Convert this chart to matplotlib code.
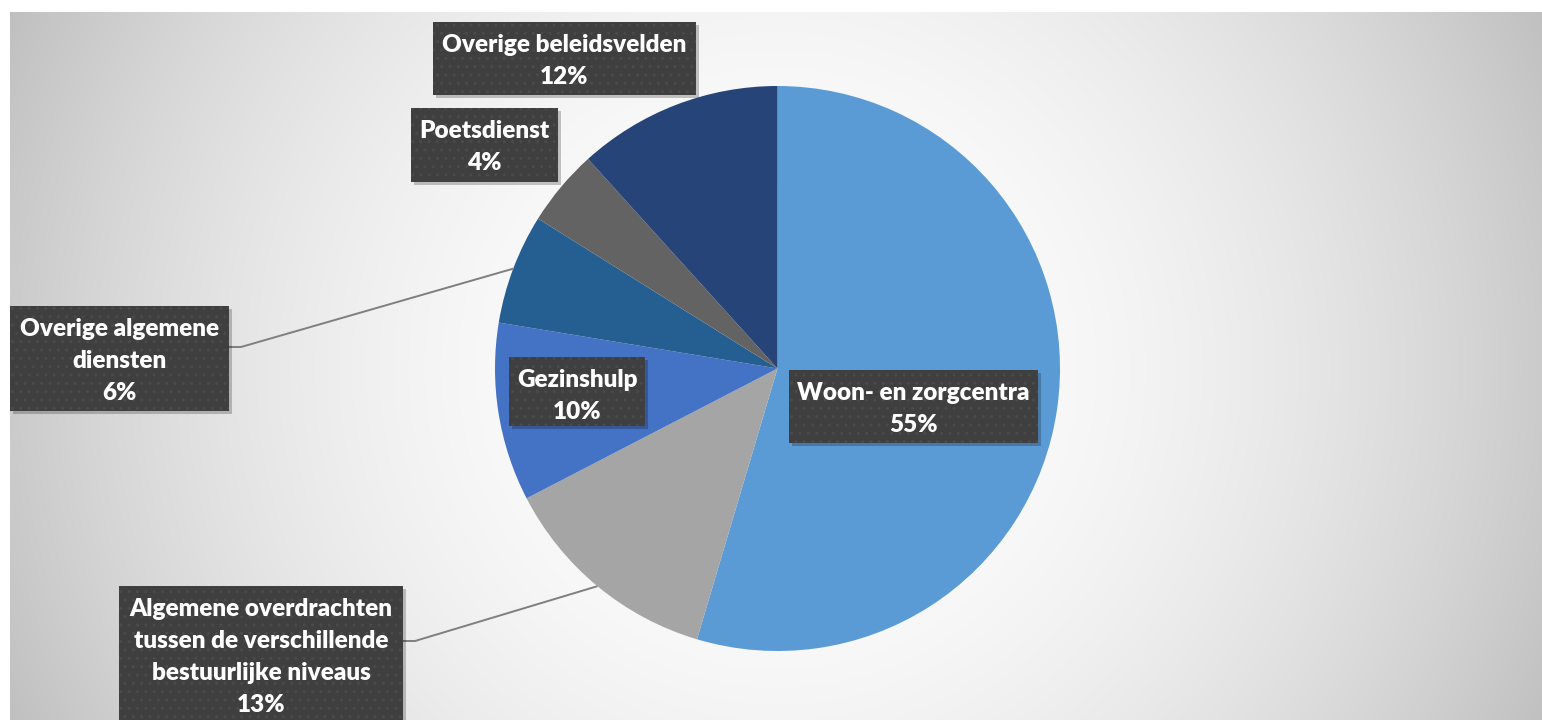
import numpy as np
import matplotlib
matplotlib.use("Agg")
import matplotlib.pyplot as plt
from matplotlib.patches import Rectangle

# ---- data ----
categories = ["Woon- en zorgcentra",
              "Algemene overdrachten\ntussen de verschillende\nbestuurlijke niveaus",
              "Gezinshulp",
              "Overige algemene\ndiensten",
              "Poetsdienst",
              "Overige beleidsvelden"]
values = [54.6, 12.8, 10.2, 6.3, 4.4, 11.7]
colors = ["#5B9BD5", "#A5A5A5", "#4472C4", "#255E91", "#636363", "#264478"]

# label box layout in pixel coords (left, top, right, bottom), y measured downward
boxes = [(789, 370, 1038, 443),
         (119, 586, 403, 740),
         (509, 357, 645, 426),
         (10, 306, 229, 411),
         (411, 108, 558, 182),
         (433, 22, 696, 95)]
leader = {1: (403, 641), 3: (229, 347)}

W, H = 1542, 720
fig = plt.figure(figsize=(W / 100, H / 100), dpi=100)
ax = fig.add_axes([0, 0, 1, 1])

def Y(y):
    return H - y

# background radial gradient
cx, cy = 777.5, 368.5
xs = np.arange(10, W) + 0.5
ys = np.arange(12, H) + 0.5
XX, YY = np.meshgrid(xs, ys)
d = np.hypot(XX - cx, YY - cy) / np.hypot(W - cx, cy)
t = np.clip(d, 0, 1) ** 2.0
g = 1.0 - t * (1.0 - 0.75)
img = np.dstack([g, g, g])
ax.imshow(img, extent=(10, W, Y(H), Y(12)), origin="upper", zorder=0,
          interpolation="bilinear")

# pie
R = 282.5
wedges, _ = ax.pie(values, colors=colors, startangle=90, counterclock=False,
                   radius=R, center=(cx, Y(cy)),
                   wedgeprops=dict(linewidth=0))
for w in wedges:
    w.set_zorder(2)

ax.set_xlim(0, W)
ax.set_ylim(0, H)
ax.set_aspect("auto")
ax.axis("off")

plt.rcParams["hatch.linewidth"] = 1.0
total = sum(values)
cum = np.cumsum([0] + values)
for i, (lab, v) in enumerate(zip(categories, values)):
    l, tp, r, b = boxes[i]
    # shadow
    ax.add_patch(Rectangle((l + 3, Y(b) - 3), r - l, b - tp, facecolor="black",
                           alpha=0.22, linewidth=0, zorder=4))
    ax.add_patch(Rectangle((l, Y(b)), r - l, b - tp, facecolor="#3F3F3F",
                           edgecolor="#4A4A4A", hatch="..", linewidth=0,
                           zorder=5))
    pct = f"{round(v / total * 100)}%"
    ax.text((l + r) / 2, Y(tp) - 12, lab + "\n" + pct, ha="center", va="top",
            color="white", fontsize=17.5, fontweight="heavy", family="Lato",
            linespacing=1.55, zorder=6)
    if i in leader:
        mid = (cum[i] + cum[i + 1]) / 2 / total * 360
        ex = cx + R * np.sin(np.radians(mid))
        ey = cy - R * np.cos(np.radians(mid))
        sx, sy = leader[i]
        ax.plot([sx, sx + 12, ex], [Y(sy), Y(sy), Y(ey)], color="#7F7F7F",
                linewidth=1.4, zorder=3, solid_capstyle="butt")

fig.savefig("out.png", dpi=100, facecolor="white")
